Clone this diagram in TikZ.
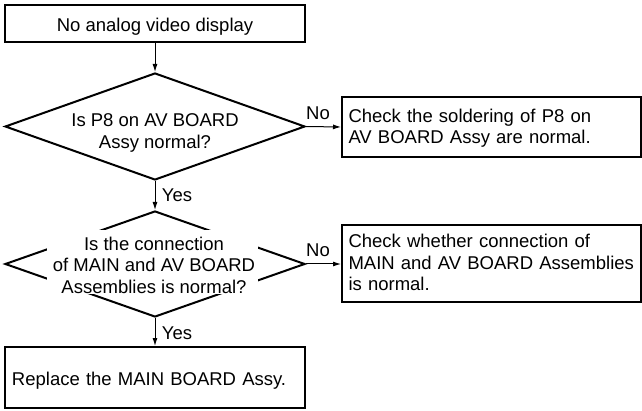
\documentclass[tikz,border=0pt]{standalone}
\usepackage{fontspec}
\setmainfont{Liberation Sans}
\usetikzlibrary{shapes.geometric,arrows.meta}
\begin{document}
\begin{tikzpicture}[x=1pt,y=-1pt,
  box/.style={draw, line width=2pt, rectangle, inner sep=0pt},
  dia/.style={draw, line width=2pt, diamond, inner sep=0pt},
  txt/.style={font=\fontsize{18.5}{21.5}\selectfont, align=center, inner sep=0pt},
  ltxt/.style={font=\fontsize{18.5}{21.5}\selectfont, align=left},
  lbl/.style={font=\fontsize{18.5}{21.5}\selectfont, inner sep=0pt},
  arr/.style={line width=1pt, -{Latex[length=8pt,width=5pt]}}]
\useasboundingbox (0,0) rectangle (642,411);
% top box
\node[box, txt, minimum width=300pt, minimum height=37pt, text height=17pt, text depth=0pt] (b1) at (155,23.5) {No analog video display};
% first decision
\node[dia, minimum width=300pt, minimum height=107pt] (d1) at (155,126.5) {};
\node[txt] (d1t) at (155,133) {Is P8 on AV BOARD\\Assy normal?};
\node[box, ltxt, minimum height=60pt, text width=286pt, inner xsep=6.5pt, text height=13pt, text depth=22pt] (b2) at (491.5,127)
  {Check the soldering of P8 on\\AV BOARD Assy are normal.};
% second decision
\node[dia, minimum width=300pt, minimum height=106pt] (d2) at (155,264) {};
\node[fill=white, inner sep=0pt, minimum width=211pt, minimum height=64pt] (d2w) at (152.5,262) {};
\node[txt] (d2t) at (154,265) {Is the connection\\of MAIN and AV BOARD\\Assemblies is normal?};
\node[box, ltxt, minimum height=77pt, text width=286pt, inner xsep=6.5pt, text height=13pt, text depth=44pt] (b3) at (491.5,263.5)
  {Check whether connection of\\MAIN and AV BOARD Assemblies\\is normal.};
% final box
\node[box, ltxt, minimum height=61pt, text width=286pt, inner xsep=7pt, text height=15pt, text depth=0pt] (b4) at (155,377.5)
  {Replace the MAIN BOARD Assy.};
% connectors
\draw[arr] (b1) -- (d1);
\draw[arr] (d1.east) -- (b2.west);
\draw[arr] (d1.south) -- (d2.north);
\draw[arr] (d2.east) -- (d2.east -| b3.west);
\draw[arr] (d2.south) -- (b4.north);
% labels
\node[lbl, anchor=base west, yshift=7pt] (no1) at (d1.east) {No};
\node[lbl, anchor=base west, yshift=7pt] (no2) at (d2.east) {No};
\node[lbl, anchor=base west, xshift=6.7pt, yshift=-21pt] (yes1) at (d1.south) {Yes};
\node[lbl, anchor=base west, xshift=6.7pt, yshift=-21pt] (yes2) at (d2.south) {Yes};
\end{tikzpicture}
\end{document}
